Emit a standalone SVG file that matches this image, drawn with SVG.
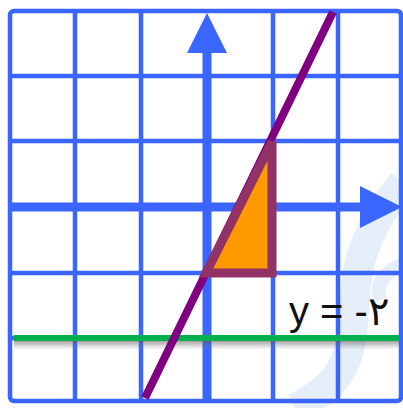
<svg xmlns="http://www.w3.org/2000/svg" width="403" height="408" viewBox="0 0 403 408">
  <defs>
    <style>
      .grid { stroke: #3a66ff; stroke-width: 4.5; fill: none; }
      .axis { stroke: #3a66ff; stroke-width: 9; fill: none; }
      .head { fill: #3a66ff; }
      .label { font-family: "Liberation Sans", "DejaVu Sans", sans-serif; font-size: 40px; fill: #111111; }
    </style>
    <linearGradient id="shadow" x1="0" y1="0" x2="0" y2="1">
      <stop offset="0" stop-color="#555555" stop-opacity="0.55"/>
      <stop offset="1" stop-color="#888888" stop-opacity="0"/>
    </linearGradient>
  </defs>
  <rect x="0" y="0" width="403" height="408" fill="#ffffff"/>

  <g id="watermark" opacity="0.13">
    <path d="M403,182 C385,205 365,235 358,270 C352,305 356,335 345,362 C335,385 315,398 295,408" stroke="#4a86d8" stroke-width="30" fill="none"/>
    <path d="M403,265 C385,270 375,285 380,300" stroke="#4a86d8" stroke-width="14" fill="none"/>
  </g>

  <g id="grid">
    <rect class="grid" x="10" y="11" width="391" height="390" rx="4"/>
    <line class="grid" x1="75" y1="11" x2="75" y2="401"/>
    <line class="grid" x1="141" y1="11" x2="141" y2="401"/>
    <line class="grid" x1="273" y1="11" x2="273" y2="401"/>
    <line class="grid" x1="338" y1="11" x2="338" y2="401"/>
    <line class="grid" x1="10" y1="76" x2="401" y2="76"/>
    <line class="grid" x1="10" y1="141" x2="401" y2="141"/>
    <line class="grid" x1="10" y1="273" x2="401" y2="273"/>
    <line class="grid" x1="10" y1="338" x2="401" y2="338"/>
  </g>

  <g id="axes">
    <line class="axis" x1="207" y1="401" x2="207" y2="50"/>
    <polygon class="head" points="207,13 227,53 187,53"/>
    <line class="axis" x1="10" y1="207" x2="362" y2="207"/>
    <polygon class="head" points="402,207 360,186 360,228"/>
  </g>

  <g id="green-line">
    <rect x="14" y="341" width="386" height="9" fill="url(#shadow)"/>
    <line x1="14" y1="338" x2="400" y2="338" stroke="#00b04f" stroke-width="6"/>
  </g>

  <g id="purple-line">
    <line x1="333" y1="12" x2="145" y2="398" stroke="#800080" stroke-width="8" stroke-linecap="butt"/>
  </g>

  <g id="triangle">
    <polygon points="206,273 272,273 272,142" fill="#ff9900" stroke="#933266" stroke-width="9" stroke-linejoin="miter" stroke-miterlimit="3"/>
  </g>

  <g id="label">
    <text class="label" x="289" y="325">y = -۲</text>
  </g>
</svg>
